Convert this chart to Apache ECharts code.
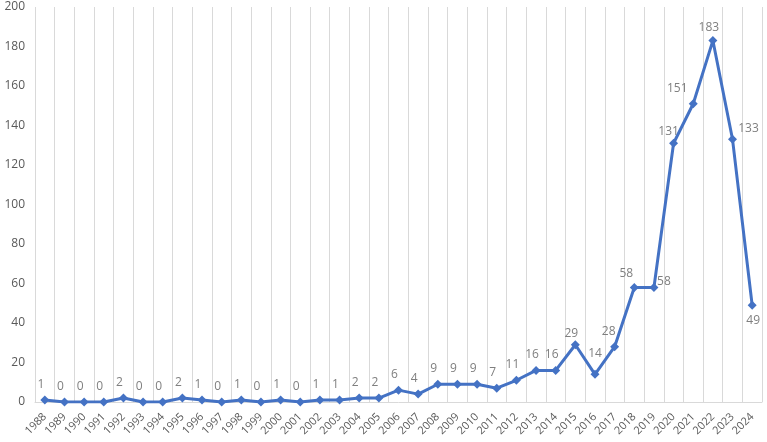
<!DOCTYPE html>
<html><head><meta charset="utf-8">
<script src="https://cdn.jsdelivr.net/npm/echarts@6/dist/echarts.min.js"></script>
<style>html,body{margin:0;padding:0;background:#fff}#c{width:767px;height:442px}</style>
</head><body><div id="c"></div>
<script>
var years = ['1988','1989','1990','1991','1992','1993','1994','1995','1996','1997','1998','1999','2000','2001','2002','2003','2004','2005','2006','2007','2008','2009','2010','2011','2012','2013','2014','2015','2016','2017','2018','2019','2020','2021','2022','2023','2024'];
var counts = [1,0,0,0,2,0,0,2,1,0,1,0,1,0,1,1,2,2,6,4,9,9,9,7,11,16,16,29,14,28,58,58,131,151,183,133,49];
var yTicks = [0,20,40,60,80,100,120,140,160,180,200];

var labelOffsets = {
  '2015':[-4,4], '2016':[0,-5], '2017':[-6,0], '2018':[-8,2], '2019':[10,9.5],
  '2020':[-5,3.5], '2021':[-16,0], '2022':[-4,2.5], '2023':[16,4.5]
};
var data = counts.map(function(v,i){
  var y = years[i];
  var lab = {show:true, position:'top', offset:[-4,0]};
  if (labelOffsets[y]) lab.offset = labelOffsets[y];
  if (y === '2024') { lab.position = 'bottom'; lab.offset = [1,0]; }
  return {value:v, label:lab};
});

var chart = echarts.init(document.getElementById('c'));
chart.setOption({
  animation:false,
  grid:{left:35, right:5, top:7, bottom:40},
  xAxis:{
    type:'category', data:years, boundaryGap:true,
    axisLine:{lineStyle:{color:'#d9d9d9', width:1}},
    axisTick:{show:false},
    splitLine:{show:true, lineStyle:{color:'#d9d9d9', width:1}},
    axisLabel:{interval:0, rotate:45, color:'#595959', fontSize:11, fontFamily:'Open Sans, sans-serif', margin:13}
  },
  yAxis:{
    type:'value', min:yTicks[0], max:yTicks[yTicks.length-1], interval:20,
    axisLine:{show:false}, axisTick:{show:false},
    splitLine:{show:false},
    axisLabel:{color:'#595959', fontSize:12, fontFamily:'Open Sans, sans-serif', margin:10}
  },
  series:[{
    type:'line', data:data,
    symbol:'diamond', symbolSize:9,
    lineStyle:{color:'#4472C4', width:3},
    itemStyle:{color:'#4472C4'},
    label:{color:'#7f7f7f', fontSize:12, fontFamily:'Open Sans, sans-serif'}
  }]
});
</script></body></html>
